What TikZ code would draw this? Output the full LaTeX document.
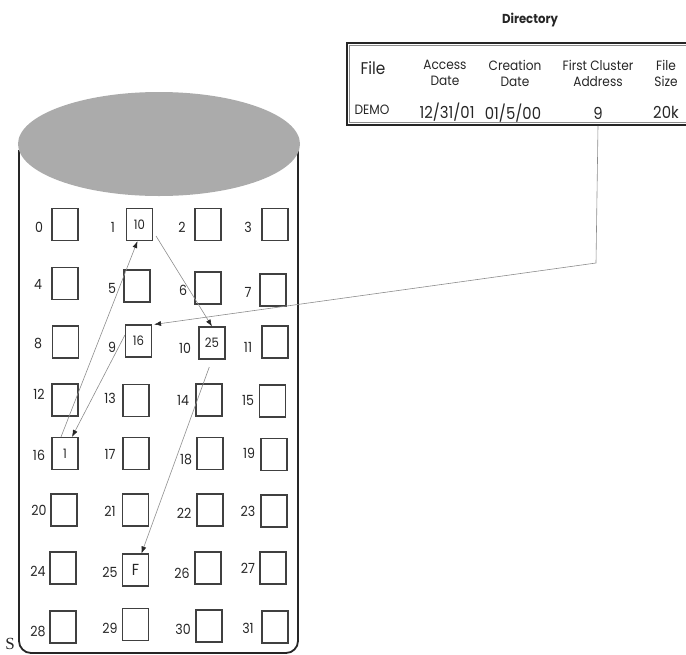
\documentclass[tikz,border=0pt]{standalone}
\usepackage{fontspec}
\setmainfont{Poppins}[FakeStretch=0.9]
\newfontfamily\serifS{Liberation Serif}
\usetikzlibrary{arrows.meta}

\begin{document}
\begin{tikzpicture}[
  x=1pt,y=-1pt,
  font=\fontsize{14}{16}\selectfont,
  every node/.style={text=black!85},
  cell/.style={draw=black!75,line width=1.1pt,minimum width=26pt,minimum height=32pt,inner sep=0pt,font=\fontsize{13}{15}\selectfont},
  num/.style={inner sep=0pt},
  hdr/.style={align=center,font=\fontsize{13.5}{16}\selectfont},
  val/.style={font=\fontsize{16.5}{20}\selectfont},
  wall/.style={draw=black!85,line width=1.8pt,rounded corners=12pt},
  link/.style={draw=black!45,line width=0.6pt,-{Latex[length=7pt,width=5pt,color=black!85]}}
]
\useasboundingbox (0,0) rectangle (686,654);

% ---------- disk ----------
\draw[wall] (19,150) -- (19,653) -- (298,653) -- (298,150);
\fill[black!33] (159,144) ellipse [x radius=141, y radius=52];

% ---------- clusters ----------
\foreach \n/\cx/\cy/\lx/\ly/\v in {
  0/65/224.5/39/227/{}, 1/139.5/224.5/113/227/10, 2/208/224.5/182/227/{}, 3/275/224.5/248/227/{},
  4/65/283.5/38/284/{}, 5/137/286/112/288/{}, 6/208/288/183/290/{}, 7/273/290/248/292/{},
  8/65.5/342/38/343/{}, 9/138.5/341/112/347/16, 10/212/343/185/348/25, 11/275/342/248/347/{},
  12/65/400/39/394/{}, 13/136/400.5/110/398/{}, 14/209/400/183/400/{}, 15/272.5/401/248/400/{},
  16/65/453.5/39/455/1, 17/136/453.5/110/454/{}, 18/210/453.5/186/459/{}, 19/274/454.5/249/453/{},
  20/64/510/39/510/{}, 21/135.5/510/110/511/{}, 22/210/510/184/513/{}, 23/274/511/248/511/{},
  24/63/568/38/571/{}, 25/135.5/570/110/572/{\fontsize{16}{16}\selectfont F}, 26/208/568/182/573/{}, 27/273/568/248/568/{},
  28/63/627/38/631/{}, 29/135.5/624.5/110/628/{}, 30/209/626/183/629/{}, 31/275/627/248/628/{}}{
  \node[cell] (c\n) at (\cx,\cy) {\v};
  \node[num] (l\n) at (\lx,\ly) {\n};
}

% ---------- directory ----------
\node[font=\bfseries\fontsize{13}{15}\selectfont] (dirtitle) at (530,20) {Directory};
\node[draw=black!85,line width=1.6pt,minimum width=353pt,minimum height=82pt,inner sep=0pt] (tbl) at (523.5,84) {};
\draw[black!45,line width=0.7pt] ([shift={(3,3)}]tbl.north west) rectangle ([shift={(-3,-3)}]tbl.south east);

\node[hdr,font=\fontsize{17}{20}\selectfont] (hfile) at (373,68) {File};
\node[hdr] (hacc) at (445,73) {Access\\Date};
\node[hdr] (hcre) at (515,73) {Creation\\Date};
\node[hdr] (hfca) at (598,73) {First Cluster\\Address};
\node[hdr] (hsize) at (666,73) {File\\Size};
\node[font=\fontsize{13.5}{16}\selectfont] (demo) at (372,110) {DEMO};
\node[val] (adate) at (447,112) {12/31/01};
\node[val] (cdate) at (513,113) {01/5/00};
\node[val] (addr) at (598,113) {9};
\node[val] (fsize) at (666,112) {20k};

% ---------- cluster chain ----------
\coordinate (bend) at (596,263);
\draw[link] (addr |- tbl.south) -- (bend) -- ([xshift=2pt]c9.north east);
\draw[link] ([shift={(3,-5)}]c1.south east) -- (c10.north);
\draw[link] ([yshift=6pt]c9.west) -- ([xshift=7pt]c16.north);
\draw[link] ([xshift=-4pt]c16.north) -- ([xshift=-2pt]c1.south);
\draw[link,shorten <=8pt] (c10.south) -- ([xshift=6pt]c25.north);

\node[font=\serifS\fontsize{17}{17}\selectfont,inner sep=0pt,anchor=north] (smark) at (10,638) {S};

\end{tikzpicture}
\end{document}
